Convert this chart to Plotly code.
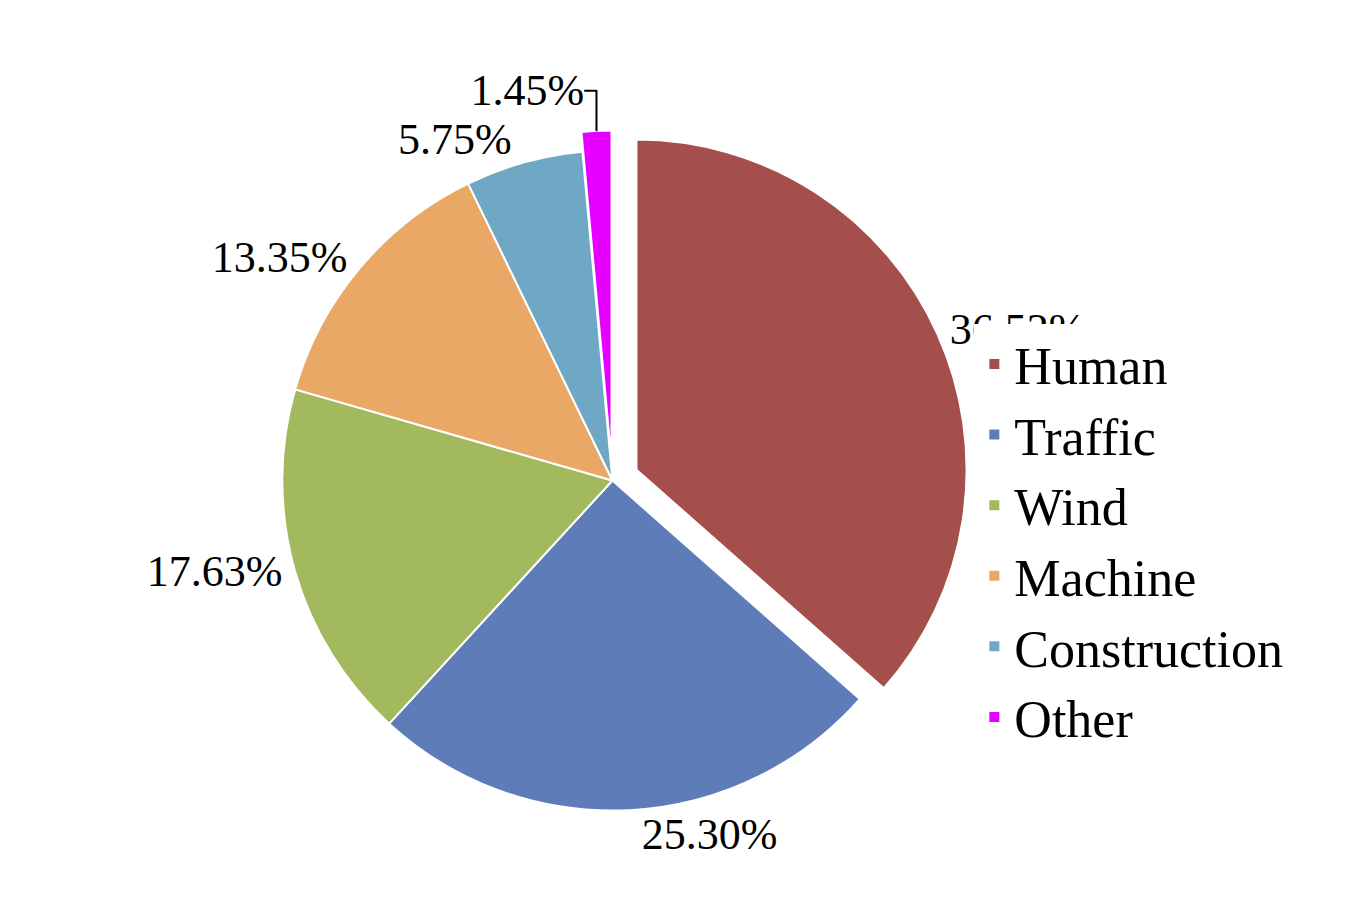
import plotly.graph_objects as go

labels = ["Human", "Traffic", "Wind", "Machine", "Construction", "Other"]
values = [36.52, 25.30, 17.63, 13.35, 5.75, 1.45]
colors = ["#A44F4B", "#5E7DB8", "#A2B95E", "#E9A866", "#6EA8C4", "#E600FF"]
pulls = [0.08, 0, 0, 0, 0, 0.06]

fig = go.Figure(go.Pie(
    labels=labels, values=values, sort=False, direction="clockwise",
    rotation=0, pull=pulls,
    marker=dict(colors=colors, line=dict(color="white", width=2)),
    texttemplate="%{value:.2f}%", textposition="outside",
    textfont=dict(family="Liberation Serif", size=44, color="black"),
    domain=dict(x=[0.0, 0.69], y=[0.0, 1.0]),
))
fig.update_layout(
    width=1357, height=909, paper_bgcolor="white",
    margin=dict(l=0, r=0, t=0, b=0),
    showlegend=True,
    legend=dict(x=0.66, y=0.72, xanchor="left", yanchor="top",
                font=dict(family="Liberation Serif", size=52, color="black"),
                itemsizing="constant", tracegroupgap=0),
)
fig.write_html("out.html")
